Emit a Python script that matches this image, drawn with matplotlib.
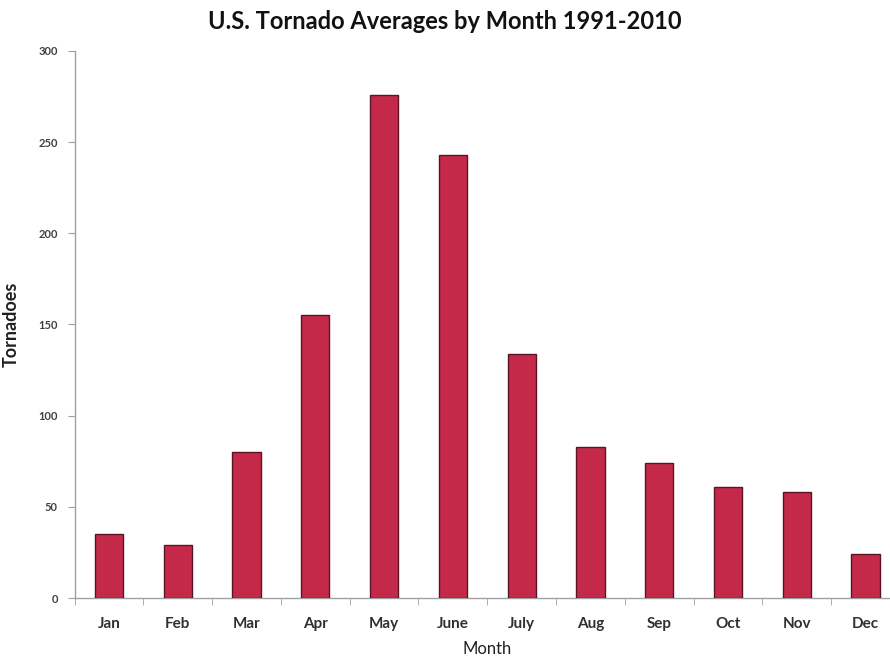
import matplotlib.pyplot as plt
import numpy as np

# data
months = ['Jan', 'Feb', 'Mar', 'Apr', 'May', 'June', 'July', 'Aug', 'Sep', 'Oct', 'Nov', 'Dec']
tornadoes = [35, 29, 80, 155, 276, 243, 134, 83, 74, 61, 58, 24]
y_ticks = [0, 50, 100, 150, 200, 250, 300]

plt.rcParams['font.family'] = ['Lato', 'DejaVu Sans']

fig = plt.figure(figsize=(8.9, 6.57), dpi=100)
# axes runs slightly past the right edge, like the cropped original
ax = fig.add_axes([0.0838, 0.0898, 0.9274, 0.8326])

x = np.arange(len(months))
ax.bar(x, tornadoes, width=0.41, color='#C4294A', edgecolor='#5A1525', linewidth=1.0, zorder=3)

ax.set_xlim(-0.5, len(months) - 0.5)
ax.set_ylim(0, 300)
ax.set_yticks(y_ticks)
ax.set_yticklabels([str(v) for v in y_ticks], fontsize=8, fontweight='bold', color='#404040')
ax.set_xticks(x)
ax.set_xticklabels(months, fontsize=11, fontweight='bold', color='#303030')
ax.tick_params(axis='x', length=0, pad=14)
ax.set_xticks(np.arange(-0.5, len(months), 1), minor=True)
ax.tick_params(axis='x', which='minor', length=5, color='#a0a0a0', direction='out')
ax.tick_params(axis='y', length=5, color='#a0a0a0', direction='out', pad=7)

for side in ['top', 'right']:
    ax.spines[side].set_visible(False)
for side in ['left', 'bottom']:
    ax.spines[side].set_color('#a0a0a0')
    ax.spines[side].set_linewidth(1.0)

ax.set_xlabel('Month', fontsize=12, color='#202020', labelpad=7)
ax.set_ylabel('Tornadoes', fontsize=13, fontweight='bold', color='#202020')
ax.yaxis.set_label_coords(-0.066, 0.5)
fig.suptitle('U.S. Tornado Averages by Month 1991-2010', fontsize=17, fontweight='bold',
             color='#111111', y=0.985)

fig.savefig('out.png', dpi=100)
